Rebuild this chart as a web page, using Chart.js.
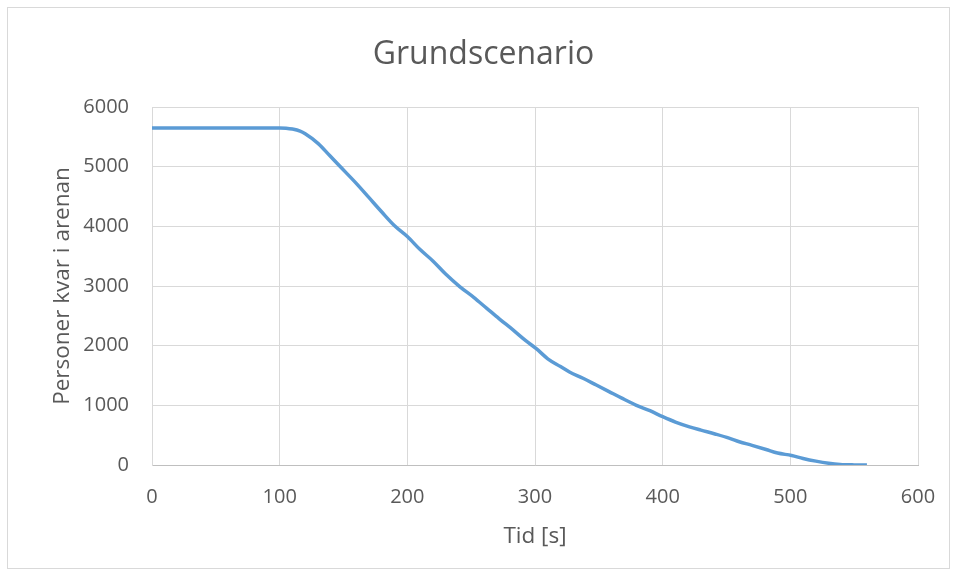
<!DOCTYPE html>
<html>
<head>
<meta charset="utf-8">
<script src="https://cdn.jsdelivr.net/npm/chart.js@4/dist/chart.umd.min.js"></script>
<style>
html,body{margin:0;padding:0;background:#fff;}
#wrap{position:absolute;left:0;top:0;width:957px;height:575px;}
</style>
</head>
<body>
<div id="wrap"><canvas id="c" width="957" height="575"></canvas></div>
<script>
const chartTitle = "Grundscenario";
const xTitle = "Tid [s]";
const yTitle = "Personer kvar i arenan";
const time = [0,50,100,105,110,116,120,130,139,147,160,170,180,190,200,210,220,230,241,252,262,272,283,293,301,310,320,327,338,348,358,368,379,390,400,410,421,430,441,452,460,470,481,490,501,510,520,530,539,550,560];
const persons = [5650,5650,5650,5645,5630,5595,5550,5390,5190,5010,4720,4480,4240,4010,3830,3610,3420,3200,2990,2810,2630,2450,2260,2080,1950,1780,1650,1560,1450,1340,1230,1120,1005,910,810,720,640,585,520,450,390,330,260,200,160,110,65,30,10,2,0];
const xTicks = [0,100,200,300,400,500,600];
const yTicks = [0,1000,2000,3000,4000,5000,6000];

const points = time.map((t,i)=>({x:t,y:persons[i]}));
const FONT = "'Open Sans', sans-serif";
const GREY = "#595959";

const borderPlugin = {
  id:'outerBorder',
  beforeDraw(chart){
    const ctx = chart.ctx;
    ctx.save();
    ctx.fillStyle = '#fff';
    ctx.fillRect(0,0,chart.width,chart.height);
    ctx.strokeStyle = '#d9d9d9';
    ctx.lineWidth = 1;
    ctx.strokeRect(7.5,7.5,942,561);
    ctx.restore();
  }
};

new Chart(document.getElementById('c'), {
  type:'line',
  data:{datasets:[{
    data:points,
    borderColor:'#5b9bd5',
    borderWidth:3.5,
    pointRadius:0,
    cubicInterpolationMode:'monotone',
    fill:false
  }]},
  plugins:[borderPlugin],
  options:{
    responsive:false,
    animation:false,
    devicePixelRatio:1,
    layout:{padding:{left:49,right:39,top:20,bottom:0}},
    plugins:{
      legend:{display:false},
      tooltip:{enabled:false},
      title:{display:true,text:chartTitle,color:GREY,font:{family:FONT,size:32,weight:'normal'},padding:{top:16,bottom:32.6}}
    },
    scales:{
      x:{
        type:'linear',min:0,max:600,
        afterBuildTicks(s){s.ticks = xTicks.map(v=>({value:v}));},
        afterFit(s){s.height = 110;},
        ticks:{color:GREY,font:{family:FONT,size:20},padding:20,maxRotation:0,callback:v=>String(v)},
        grid:{color:'#d9d9d9',lineWidth:1,drawTicks:false},
        border:{color:'#bfbfbf',width:1},
        title:{display:true,text:xTitle,color:GREY,font:{family:FONT,size:22.5},padding:{top:0,bottom:24.5}}
      },
      y:{
        min:0,max:6000,
        afterBuildTicks(s){s.ticks = yTicks.map(v=>({value:v}));},
        afterFit(s){s.width = 103;},
        ticks:{color:GREY,font:{family:FONT,size:20},padding:23,callback:v=>String(v)},
        grid:{color:'#d9d9d9',lineWidth:1,drawTicks:false},
        border:{color:'#d9d9d9',width:1},
        title:{display:true,text:yTitle,color:GREY,font:{family:FONT,size:22.5},padding:{top:0,bottom:0}}
      }
    }
  }
});
</script>
</body>
</html>
